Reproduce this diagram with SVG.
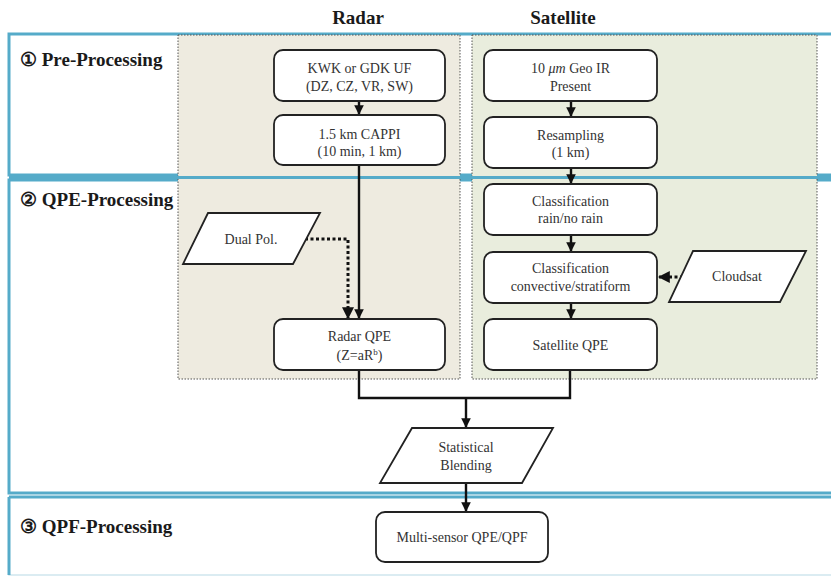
<svg xmlns="http://www.w3.org/2000/svg" width="831" height="579" viewBox="0 0 831 579">
<defs>
<style>
.sec{fill:#ffffff;stroke:#55abc9;stroke-width:3}
.reg{stroke:#555;stroke-width:1;stroke-dasharray:1.5 1.5}
.box{fill:#fff;stroke:#222;stroke-width:1.8}
.t{font-family:'Liberation Serif',serif;font-size:14px;fill:#333;text-anchor:middle}
.h{font-family:'Liberation Serif',serif;font-size:19px;font-weight:bold;fill:#1a1a1a}
.ln{fill:none;stroke:#111;stroke-width:2.4}
.dot{fill:none;stroke:#111;stroke-width:3;stroke-dasharray:3 2.5}
</style>
<marker id="ah" viewBox="0 0 10 10" refX="9" refY="5" markerWidth="4" markerHeight="4" orient="auto" markerUnits="strokeWidth">
<path d="M0,0 L10,5 L0,10 z" fill="#111"/>
</marker>
</defs>
<rect width="831" height="579" fill="#fff"/>
<g id="sections">
<rect class="sec" x="9" y="34" width="830" height="141"/>
<rect class="sec" x="9" y="180" width="830" height="313"/>
<rect x="9" y="497" width="830" height="78" fill="#fff" stroke="#cfe6ee" stroke-width="1.5"/>
<line x1="9" y1="497" x2="831" y2="497" stroke="#55abc9" stroke-width="3"/>
<line x1="9" y1="497" x2="9" y2="575" stroke="#55abc9" stroke-width="3"/>
</g>
<g id="regions">
<rect class="reg" x="178" y="35" width="282" height="344" fill="#eeebe0"/>
<rect class="reg" x="472" y="35" width="345" height="344" fill="#e9eddd"/>
<line x1="9" y1="177.5" x2="831" y2="177.5" stroke="#55abc9" stroke-width="3"/>
</g>
<g id="titles">
<text class="h" x="358" y="24" text-anchor="middle">Radar</text>
<text class="h" x="563" y="24" text-anchor="middle">Satellite</text>
<text class="h" x="20" y="66">① Pre-Processing</text>
<text class="h" x="20" y="206">② QPE-Processing</text>
<text class="h" x="20" y="533">③ QPF-Processing</text>
</g>
<g id="connectors">
<line class="ln" x1="359" y1="101" x2="359" y2="114" marker-end="url(#ah)"/>
<line class="ln" x1="359" y1="165" x2="359" y2="318" marker-end="url(#ah)"/>
<polyline class="dot" points="305,239 348,239 348,318" marker-end="url(#ah)"/>
<line class="ln" x1="571" y1="101" x2="571" y2="116" marker-end="url(#ah)"/>
<line class="ln" x1="571" y1="168" x2="571" y2="183" marker-end="url(#ah)"/>
<line class="ln" x1="571" y1="235" x2="571" y2="251" marker-end="url(#ah)"/>
<line class="ln" x1="571" y1="303" x2="571" y2="318" marker-end="url(#ah)"/>
<line class="dot" x1="683" y1="277" x2="659" y2="277" marker-end="url(#ah)"/>
<polyline class="ln" points="359,370 359,398 570,398 570,370"/>
<line class="ln" x1="466" y1="398" x2="466" y2="427" marker-end="url(#ah)"/>
<line class="ln" x1="466" y1="483" x2="466" y2="511" marker-end="url(#ah)"/>
</g>
<g id="kwk">
<rect class="box" x="274" y="50" width="171" height="51" rx="9"/>
<text class="t" x="359.5" y="73">KWK or GDK UF</text>
<text class="t" x="359.5" y="91">(DZ, CZ, VR, SW)</text>
</g>
<g id="cappi">
<rect class="box" x="274" y="115" width="171" height="50" rx="9"/>
<text class="t" x="359.5" y="139">1.5 km CAPPI</text>
<text class="t" x="359.5" y="156">(10 min, 1 km)</text>
</g>
<g id="dualpol">
<polygon class="box" points="208,213 320,213 293,264 183,264"/>
<text class="t" x="251" y="244">Dual Pol.</text>
</g>
<g id="radarqpe">
<rect class="box" x="274" y="319" width="171" height="51" rx="9"/>
<text class="t" x="359.5" y="341">Radar QPE</text>
<text class="t" x="359.5" y="360">(Z=aR<tspan font-size="9" dy="-5">b</tspan><tspan dy="5">)</tspan></text>
</g>
<g id="geoir">
<rect class="box" x="484" y="50" width="173" height="51" rx="9"/>
<text class="t" x="570.5" y="73">10 <tspan font-style="italic">μm</tspan> Geo IR</text>
<text class="t" x="570.5" y="91">Present</text>
</g>
<g id="resampling">
<rect class="box" x="484" y="117" width="173" height="51" rx="9"/>
<text class="t" x="570.5" y="140">Resampling</text>
<text class="t" x="570.5" y="157">(1 km)</text>
</g>
<g id="classrain">
<rect class="box" x="484" y="184" width="173" height="51" rx="9"/>
<text class="t" x="570.5" y="206">Classification</text>
<text class="t" x="570.5" y="223">rain/no rain</text>
</g>
<g id="classconv">
<rect class="box" x="484" y="252" width="173" height="51" rx="9"/>
<text class="t" x="570.5" y="273">Classification</text>
<text class="t" x="570.5" y="291" font-size="13.5">convective/stratiform</text>
</g>
<g id="cloudsat">
<polygon class="box" points="693,251 806,251 780,302 669,302"/>
<text class="t" x="737" y="281">Cloudsat</text>
</g>
<g id="satqpe">
<rect class="box" x="484" y="319" width="173" height="51" rx="9"/>
<text class="t" x="570.5" y="350">Satellite QPE</text>
</g>
<g id="blending">
<polygon class="box" points="412,428 553,428 522,483 380,483"/>
<text class="t" x="466" y="452">Statistical</text>
<text class="t" x="466" y="470">Blending</text>
</g>
<g id="multisensor">
<rect class="box" x="376" y="512" width="172" height="50" rx="9"/>
<text class="t" x="462" y="542">Multi-sensor QPE/QPF</text>
</g>
</svg>
